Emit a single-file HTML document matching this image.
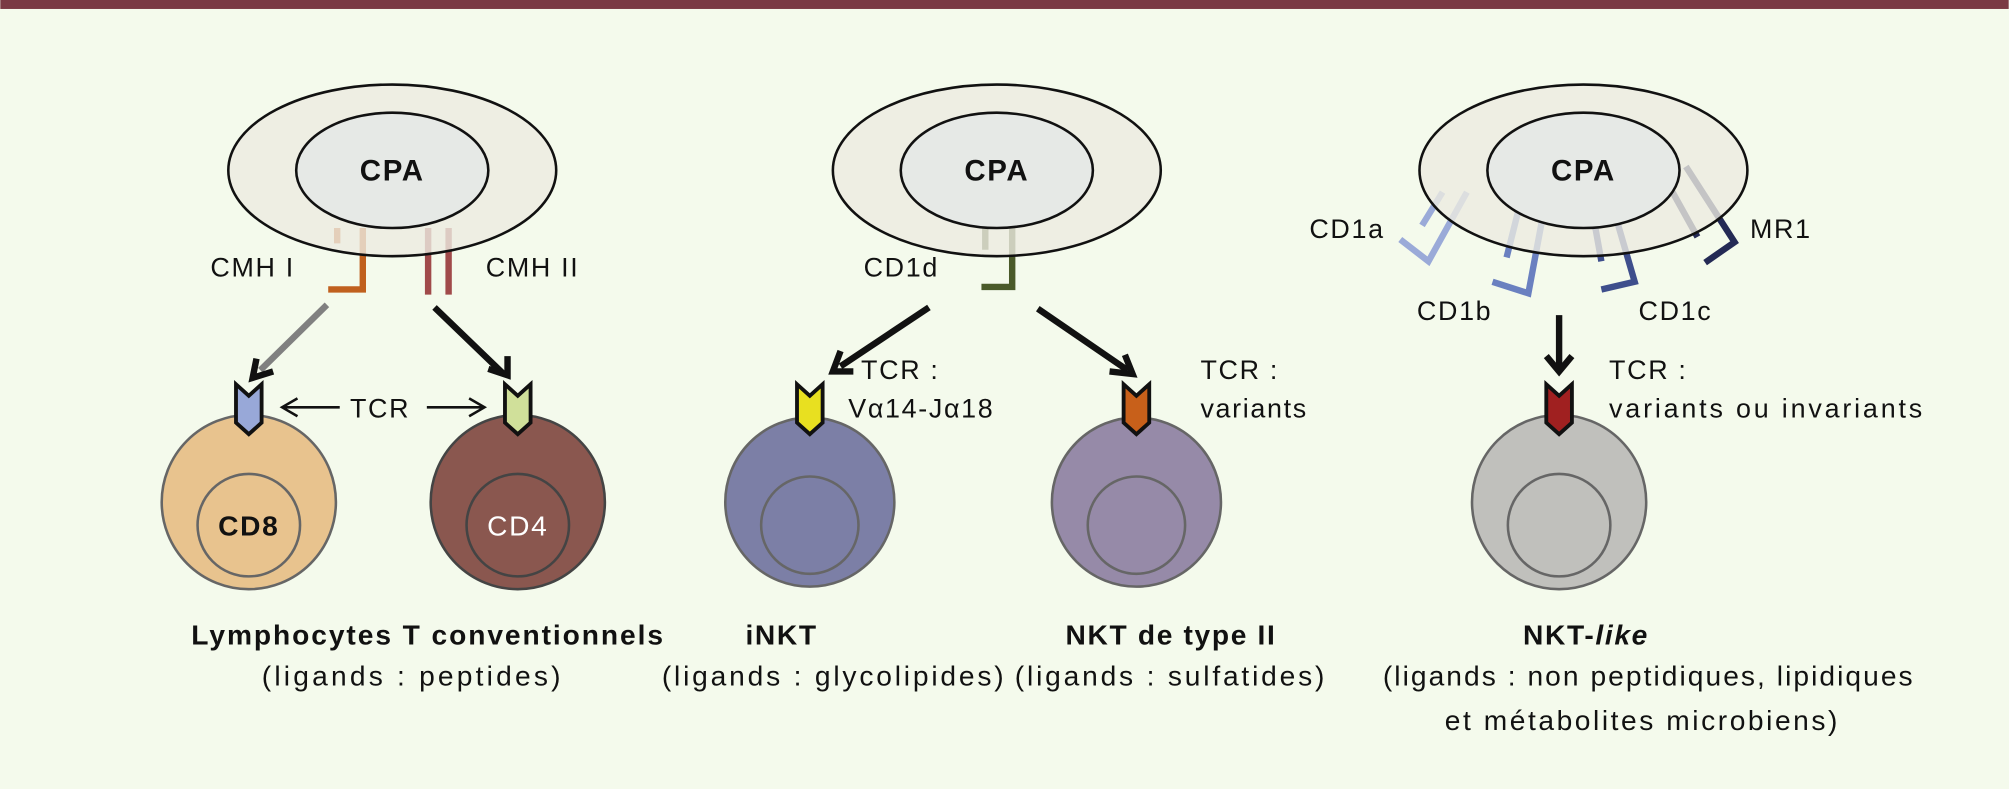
<!DOCTYPE html>
<html><head><meta charset="utf-8"><style>
html,body{margin:0;padding:0;background:#f4faec;}
svg{display:block}
text{font-family:"Liberation Sans",sans-serif;fill:#111;letter-spacing:1.3px;}
</style></head><body>
<svg width="2009" height="789" viewBox="0 0 1568 616" xmlns="http://www.w3.org/2000/svg">
<rect width="1568" height="616" fill="#f4faec"/>
<rect width="1568" height="7" fill="#7a3a44"/>

<!-- receptors drawn under ellipses -->
<g fill="none" stroke-width="5">
<path d="M263,178 V190 M283,178 V226 H256" stroke="#c0601e"/>
<path d="M334,178 V230 M350,178 V230" stroke="#a04a4a"/>
<path d="M769,178 V195 M790,178 V224 H766" stroke="#4a5a2a"/>
<path d="M1126,150 L1110,176 M1145,150 L1115,204 L1093,187" stroke="#9aaad8"/>
<path d="M1185,165 L1176,201 M1205,165 L1193,229 L1165,220" stroke="#6a80c0"/>
<path d="M1243,165 L1250,204 M1260,165 L1276,220 L1250,226" stroke="#3e4e8c"/>
<path d="M1300,140 L1325,185 M1316,130 L1354,189 L1331,205" stroke="#242a55"/>
</g>

<g stroke="#111" stroke-width="2">
<ellipse cx="306" cy="133" rx="128" ry="67" fill="#ecebe1" fill-opacity="0.8"/>
<ellipse cx="306" cy="133" rx="75" ry="45" fill="#e6e9e6"/>
<ellipse cx="778" cy="133" rx="128" ry="67" fill="#ecebe1" fill-opacity="0.8"/>
<ellipse cx="778" cy="133" rx="75" ry="45" fill="#e6e9e6"/>
<ellipse cx="1236" cy="133" rx="128" ry="67" fill="#ecebe1" fill-opacity="0.8"/>
<ellipse cx="1236" cy="133" rx="75" ry="45" fill="#e6e9e6"/>
</g>
<g font-weight="bold" font-size="23" text-anchor="middle">
<text x="306" y="141">CPA</text><text x="778" y="141">CPA</text><text x="1236" y="141">CPA</text>
</g>

<!-- arrows -->
<g fill="none" stroke-linecap="butt">
<path d="M255,238 L203,289" stroke="#808080" stroke-width="5"/>
<path d="M200,280 L197,295 L213,290" stroke="#111" stroke-width="5"/>
<path d="M339,240 L393,292" stroke="#111" stroke-width="5"/>
<path d="M381,288 L396,293 L396,278" stroke="#111" stroke-width="5"/>
<path d="M725,240 L656,286" stroke="#111" stroke-width="5"/>
<path d="M656,274 L650,290 L666,290" stroke="#111" stroke-width="5"/>
<path d="M810,241 L880,289" stroke="#111" stroke-width="5"/>
<path d="M866,290 L884,292 L878,277" stroke="#111" stroke-width="5"/>
<path d="M1217,246 L1217,290" stroke="#111" stroke-width="5"/>
<path d="M1207,278 L1217,290 L1227,278" stroke="#111" stroke-width="5"/>
<path d="M265,318 H220 M232,311 L220,318 L232,325" stroke="#111" stroke-width="2"/>
<path d="M333,318 H378 M366,311 L378,318 L366,325" stroke="#111" stroke-width="2"/>
</g>

<!-- cells -->
<g stroke="#666" stroke-width="2">
<circle cx="194" cy="392" r="68" fill="#e8c38e"/>
<circle cx="194" cy="410" r="40" fill="#e8c38e"/>
<circle cx="404" cy="392" r="68" fill="#8a574f" stroke="#444"/>
<circle cx="404" cy="410" r="40" fill="#8a574f" stroke="#444"/>
<circle cx="632" cy="392" r="66" fill="#7c7fa6"/>
<circle cx="632" cy="410" r="38" fill="#7c7fa6"/>
<circle cx="887" cy="392" r="66" fill="#968aa8"/>
<circle cx="887" cy="410" r="38" fill="#968aa8"/>
<circle cx="1217" cy="392" r="68" fill="#c0c0bc"/>
<circle cx="1217" cy="410" r="40" fill="#c0c0bc"/>
</g>
<text x="194" y="418" font-size="22" font-weight="bold" text-anchor="middle">CD8</text>
<text x="404" y="418" font-size="22" text-anchor="middle" style="fill:#fff">CD4</text>

<!-- TCR chevrons -->
<g stroke="#111" stroke-width="3" stroke-linejoin="miter">
<path d="M184,300 L194,309 L204,300 V330 L194,339 L184,330 Z" fill="#98a8d8"/>
<path d="M394,300 L404,309 L414,300 V330 L404,339 L394,330 Z" fill="#d0e09a"/>
<path d="M622,300 L632,309 L642,300 V330 L632,339 L622,330 Z" fill="#e8e020"/>
<path d="M877,300 L887,309 L897,300 V330 L887,339 L877,330 Z" fill="#c8601a"/>
<path d="M1207,300 L1217,309 L1227,300 V330 L1217,339 L1207,330 Z" fill="#a02020"/>
</g>

<g font-size="21">
<text x="164" y="216">CMH I</text>
<text x="379" y="216">CMH II</text>
<text x="273" y="326">TCR</text>
<text x="674" y="216">CD1d</text>
<text x="672" y="296">TCR :</text>
<text x="662" y="326">Vα14-Jα18</text>
<text x="937" y="296">TCR :</text>
<text x="937" y="326">variants</text>
<text x="1022" y="186">CD1a</text>
<text x="1106" y="250">CD1b</text>
<text x="1279" y="250">CD1c</text>
<text x="1366" y="186">MR1</text>
<text x="1256" y="296">TCR :</text>
<text x="1256" y="326" style="letter-spacing:2.2px">variants ou invariants</text>
</g>
<g font-size="22" text-anchor="middle">
<text x="334" y="503" font-weight="bold" style="letter-spacing:1.5px">Lymphocytes T conventionnels</text>
<text x="322" y="535" style="letter-spacing:2.5px">(ligands : peptides)</text>
<text x="610" y="503" font-weight="bold">iNKT</text>
<text x="651" y="535" style="letter-spacing:2.2px">(ligands : glycolipides)</text>
<text x="914" y="503" font-weight="bold">NKT de type II</text>
<text x="914" y="535" style="letter-spacing:2.2px">(ligands : sulfatides)</text>
<text x="1238" y="503" font-weight="bold">NKT-<tspan font-style="italic">like</tspan></text>
<text x="1287" y="535" style="letter-spacing:1.6px">(ligands : non peptidiques, lipidiques</text>
<text x="1282" y="570" style="letter-spacing:2px">et métabolites microbiens)</text>
</g>
</svg>
</body></html>
